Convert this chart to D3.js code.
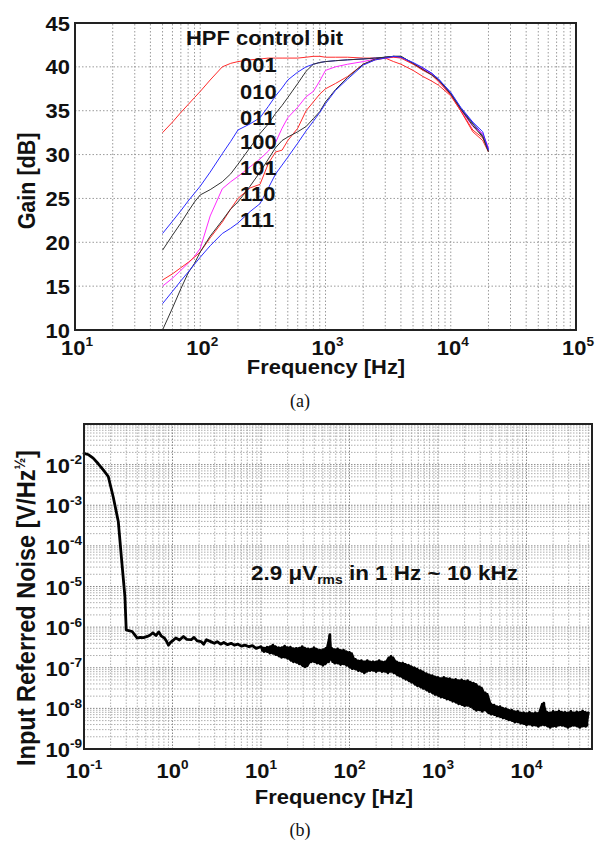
<!DOCTYPE html>
<html><head><meta charset="utf-8">
<script src="https://cdn.jsdelivr.net/npm/d3@7"></script>
<style>body{margin:0;background:#fff}svg{display:block}</style>
</head><body>
<svg id="c" width="602" height="851"></svg>
<script>
// ---------- DATA: (a) gain vs frequency ----------
const gainFreq = [50, 60, 70, 80, 90, 100, 120, 150, 175, 200, 250, 300, 350, 400, 450, 500, 600, 700, 800, 900, 1000, 1200, 1500, 2000, 2500, 3000, 3500, 4000, 5000, 6000, 7000, 8000, 10000, 12000, 15000, 18000, 20000];
const gain001 = [32.5, 33.7, 34.8, 35.7, 36.5, 37.2, 38.5, 40.0, 40.4, 40.6, 40.8, 40.9, 41.0, 41.0, 41.0, 41.0, 41.0, 41.1, 41.2, 41.2, 41.1, 41.1, 41.1, 41.0, 41.0, 41.0, 40.6, 40.3, 39.6, 38.9, 38.4, 37.9, 36.7, 35.0, 32.8, 31.9, 30.7];
const gain010 = [21.0, 22.4, 23.6, 24.7, 25.6, 26.4, 28.0, 30.1, 31.5, 32.8, 33.5, 34.2, 35.5, 36.7, 37.6, 38.5, 39.4, 40.0, 40.3, 40.5, 40.6, 40.7, 40.8, 40.9, 41.0, 41.1, 41.2, 41.1, 40.4, 39.8, 39.3, 38.6, 37.0, 35.3, 33.6, 32.3, 30.6];
const gain011 = [19.1, 20.8, 22.2, 23.5, 24.6, 25.4, 26.0, 26.9, 27.8, 28.9, 30.8, 32.4, 33.5, 34.7, 35.6, 36.5, 38.1, 39.5, 40.3, 40.5, 40.6, 40.7, 40.8, 40.9, 41.0, 41.1, 41.2, 41.2, 40.4, 39.7, 39.2, 38.5, 36.9, 35.2, 33.5, 32.1, 30.4];
const gain100 = [15.0, 15.9, 16.8, 17.6, 18.4, 19.3, 23.0, 26.1, 26.9, 27.5, 28.6, 29.5, 30.4, 31.4, 33.0, 34.2, 35.4, 36.6, 37.2, 38.4, 39.6, 40.0, 40.3, 40.6, 40.9, 41.0, 41.1, 41.1, 40.4, 39.8, 39.2, 38.4, 36.8, 35.1, 33.2, 32.4, 30.8];
const gain101 = [15.7, 16.4, 17.1, 17.7, 18.3, 18.9, 20.5, 22.3, 23.8, 25.0, 26.2, 26.6, 29.0, 30.3, 30.5, 31.6, 33.0, 35.0, 36.0, 36.9, 37.5, 38.1, 38.9, 40.3, 40.8, 41.0, 41.1, 41.0, 40.3, 39.6, 39.1, 38.3, 36.8, 35.0, 32.6, 31.6, 30.3];
const gain110 = [10.0, 12.5, 14.7, 16.5, 17.6, 18.9, 20.7, 22.5, 23.8, 24.6, 26.4, 28.0, 29.5, 30.8, 31.6, 32.0, 32.6, 33.2, 34.1, 34.9, 36.0, 37.4, 38.8, 40.3, 40.9, 41.1, 41.2, 41.2, 40.4, 39.7, 39.1, 38.5, 36.9, 35.2, 33.3, 32.0, 30.3];
const gain111 = [13.0, 14.4, 15.6, 16.6, 17.5, 18.3, 19.6, 21.0, 21.6, 22.2, 23.5, 24.4, 26.2, 27.8, 28.8, 29.7, 31.3, 32.7, 33.8, 34.8, 35.8, 37.3, 38.6, 40.2, 40.8, 41.0, 41.2, 41.1, 40.5, 39.9, 39.3, 38.6, 37.1, 35.4, 33.7, 32.6, 30.5];
const hpfCodes = ["001", "010", "011", "100", "101", "110", "111"];
const hpfColors = ["#ff2b2b", "#2b2bff", "#333333", "#ff2bff", "#ff2b2b", "#333333", "#2b2bff"];
const gainTicksY = [10, 15, 20, 25, 30, 35, 40, 45];
const gainTicksX = [10, 100, 1000, 10000, 100000];
const gainTickExp = ["1", "2", "3", "4", "5"];

// ---------- DATA: (b) input referred noise ----------
const noiseFreq = [0.1, 0.113, 0.127, 0.145, 0.165, 0.188, 0.214, 0.244, 0.266, 0.29, 0.3,
  0.32, 0.35, 0.38, 0.40, 0.43, 0.47, 0.52, 0.56, 0.60, 0.65, 0.70, 0.75, 0.81, 0.86, 0.90, 0.95,
  1.0, 1.09, 1.2, 1.33, 1.45, 1.63, 1.75, 1.9, 2.1, 2.25, 2.42, 2.7, 2.97, 3.2, 3.5, 3.8, 4.2, 4.6, 5.0, 5.5, 6.0, 6.6, 7.3, 8.0, 8.8, 9.6,
  10, 10.8, 11.7, 12.6, 13.6, 14.7, 15.9, 17.1, 18.5, 20, 21.5, 23.2, 25, 27, 29.2, 31.5, 34, 36.8, 39.7, 42.9, 46.3, 50, 54, 58.3, 60, 61, 63, 68, 73.4, 79.3, 85.6, 92.5, 100,
  108, 116.6, 126, 136, 147, 158.7, 171, 185, 200, 216, 233, 252, 272, 294, 317,
  342, 370, 400, 432, 466, 503, 543, 587, 634, 684, 739, 798, 862, 931, 1000,
  1080, 1166, 1260, 1360, 1470, 1587, 1714, 1851, 2000, 2160, 2332, 2520, 2720, 2940, 3170, 3420,
  3690, 3990, 4300, 4650, 5020, 5420, 5850, 6320, 6830, 7370, 7960, 8600, 9290, 10000,
  10800, 11660, 12600, 13600, 14700, 15700, 15900, 17100, 18500, 20000, 21600, 23300, 25200, 27200, 29400, 31700, 34200, 37000, 40000, 43100, 46600, 50000];
const noiseVal = [1.9e-2, 1.75e-2, 1.45e-2, 1.05e-2, 7.4e-3, 5.1e-3, 1.6e-3, 4.0e-4, 4.6e-5, 5.6e-6, 8.5e-7,
  8.2e-7, 7.8e-7, 6.2e-7, 5.4e-7, 5.6e-7, 5.5e-7, 5.9e-7, 6.4e-7, 7.2e-7, 6.2e-7, 7.6e-7, 6.0e-7, 5.4e-7, 4.4e-7, 3.6e-7, 4.2e-7,
  4.6e-7, 5.4e-7, 4.8e-7, 5.9e-7, 5.0e-7, 4.9e-7, 5.6e-7, 4.6e-7, 4.4e-7, 3.8e-7, 4.9e-7, 4.4e-7, 4.0e-7, 4.4e-7, 3.8e-7, 4.2e-7, 3.7e-7, 4.0e-7, 3.6e-7, 3.8e-7, 3.4e-7, 3.6e-7, 3.3e-7, 3.5e-7, 3.0e-7, 3.2e-7,
  3.3e-7, 2.5e-7, 3.2e-7, 2.3e-7, 3.6e-7, 2.1e-7, 3.1e-7, 1.8e-7, 3.4e-7, 1.7e-7, 3.2e-7, 1.4e-7, 3.0e-7, 1.25e-7, 3.3e-7, 1.05e-7, 2.9e-7, 1.4e-7, 3.1e-7, 1.3e-7, 2.7e-7, 1.15e-7, 3.0e-7, 1.4e-7, 6.5e-7, 1.6e-7, 3.0e-7, 1.3e-7, 2.9e-7, 1.2e-7, 2.7e-7, 1.15e-7, 2.4e-7,
  9.5e-8, 1.6e-7, 8.5e-8, 1.5e-7, 7.5e-8, 1.5e-7, 8.5e-8, 1.4e-7, 8.0e-8, 1.5e-7, 8.0e-8, 1.4e-7, 7.5e-8, 1.9e-7, 7.5e-8,
  1.4e-7, 6.2e-8, 1.3e-7, 5.2e-8, 1.15e-7, 4.4e-8, 1.0e-7, 3.6e-8, 8.5e-8, 3.1e-8, 7.2e-8, 2.6e-8, 6.4e-8, 2.2e-8, 5.8e-8,
  1.9e-8, 5.8e-8, 1.7e-8, 5.4e-8, 1.5e-8, 5.2e-8, 1.3e-8, 5.0e-8, 1.15e-8, 4.8e-8, 1.1e-8, 4.2e-8, 9.0e-9, 3.4e-8, 8.5e-9, 2.4e-8,
  1.4e-8, 7.2e-9, 1.2e-8, 6.5e-9, 1.1e-8, 5.8e-9, 9.8e-9, 5.2e-9, 9.0e-9, 4.6e-9, 8.4e-9, 4.3e-9, 7.8e-9, 3.9e-9,
  8.0e-9, 3.8e-9, 7.8e-9, 3.6e-9, 8.2e-9, 1.35e-8, 3.9e-9, 8.0e-9, 3.4e-9, 8.4e-9, 3.6e-9, 8.6e-9, 3.8e-9, 8.0e-9, 3.4e-9, 8.4e-9, 3.8e-9, 8.2e-9, 3.4e-9, 8.6e-9, 3.6e-9, 7.8e-9];
const noiseTicksX = [0.1, 1, 10, 100, 1000, 10000];
const noiseTickExpX = ["-1", "0", "1", "2", "3", "4"];
const noiseTicksY = [1e-9, 1e-8, 1e-7, 1e-6, 1e-5, 1e-4, 1e-3, 1e-2];
const noiseTickExpY = ["-9", "-8", "-7", "-6", "-5", "-4", "-3", "-2"];

// ---------- DRAWING ----------
const SANS = "'Liberation Sans', Arial, Helvetica, sans-serif";
const SERIF = "'Liberation Serif', 'Times New Roman', serif";
const SX = 1.07; // horizontal stretch of the reference lettering
const FS = 20.5;
const svg = d3.select("#c");

function logGridValues(lo, hi) {
  const out = [];
  for (let e = Math.floor(Math.log10(lo)); e <= Math.ceil(Math.log10(hi)); e++) {
    for (let k = 1; k < 10; k++) {
      const v = k * Math.pow(10, e);
      if (v > lo * 1.0001 && v < hi * 0.9999) out.push({v, major: k === 1});
    }
  }
  return out;
}

function label(g, x, y, anchor, size, rot) {
  return g.append("text")
    .attr("transform", `translate(${x},${y}) scale(${SX},1)` + (rot ? ` rotate(${rot})` : ""))
    .attr("text-anchor", anchor).attr("font-family", SANS)
    .attr("font-weight", "bold").attr("font-size", size).attr("fill", "#111");
}

function powLabel(g, x, y, exp, anchor, size) {
  const t = label(g, x, y, anchor, size);
  t.append("tspan").text("10");
  t.append("tspan").attr("dy", -size * 0.42).attr("font-size", size * 0.62).text(exp);
  return t;
}

// ===== Chart (a) =====
const xA = d3.scaleLog().domain([10, 1e5]).range([75, 576]);
const yA = d3.scaleLinear().domain([10, 45]).range([330, 23]);
const gA = svg.append("g");

gA.selectAll("line.vgA").data(logGridValues(10, 1e5)).join("line")
  .attr("x1", d => xA(d.v)).attr("x2", d => xA(d.v))
  .attr("y1", yA(10)).attr("y2", yA(45))
  .attr("stroke", "#8f8f8f").attr("stroke-width", 0.9).attr("stroke-dasharray", "1.5,2");
gA.selectAll("line.hgA").data(gainTicksY.slice(1, -1)).join("line")
  .attr("x1", xA(10)).attr("x2", xA(1e5))
  .attr("y1", d => yA(d)).attr("y2", d => yA(d))
  .attr("stroke", "#8f8f8f").attr("stroke-width", 0.9).attr("stroke-dasharray", "1.5,2");

const gainSeries = [gain001, gain010, gain011, gain100, gain101, gain110, gain111];
const lineA = d3.line().x(d => xA(d[0])).y(d => yA(d[1]));
gainSeries.forEach((vals, i) => {
  gA.append("path")
    .datum(gainFreq.map((f, j) => [f, vals[j]]))
    .attr("d", lineA).attr("fill", "none")
    .attr("stroke", hpfColors[i]).attr("stroke-width", 1)
    .attr("stroke-linejoin", "round");
});

gA.append("rect").attr("x", xA(10)).attr("y", yA(45))
  .attr("width", xA(1e5) - xA(10)).attr("height", yA(10) - yA(45))
  .attr("fill", "none").attr("stroke", "#222").attr("stroke-width", 2);

gainTicksY.forEach(v => label(gA, 70, yA(v) + 7.5, "end", FS).text(v));
gainTicksX.forEach((v, i) => powLabel(gA, xA(v) + 2, 355, gainTickExp[i], "middle", FS));

label(gA, 35, 181, "middle", 21.5, -90).text("Gain [dB]");
label(gA, 326, 374, "middle", FS).text("Frequency [Hz]");

// legend text
label(gA, 186, 45, "start", FS).text("HPF control bit");
const codeBaselines = [72, 99, 125, 149, 175, 201, 227];
hpfCodes.forEach((c, i) => label(gA, 240, codeBaselines[i], "start", FS).text(c));

svg.append("text").attr("x", 300).attr("y", 407).attr("text-anchor", "middle")
  .attr("font-family", SERIF).attr("font-size", 18).attr("fill", "#111").text("(a)");

// ===== Chart (b) =====
const xB = d3.scaleLog().domain([0.1, 5.5e4]).range([84, 592]);
const yB = d3.scaleLog().domain([1e-9, 1e-1]).range([749, 424]);
const gB = svg.append("g");

gB.selectAll("line.vgB").data(logGridValues(0.1, 5.5e4)).join("line")
  .attr("x1", d => xB(d.v)).attr("x2", d => xB(d.v))
  .attr("y1", yB(1e-9)).attr("y2", yB(1e-1))
  .attr("stroke", d => d.major ? "#777" : "#a6a6a6").attr("stroke-width", 0.9)
  .attr("stroke-dasharray", "1.5,1.5");
gB.selectAll("line.hgB").data(logGridValues(1e-9, 1e-1)).join("line")
  .attr("x1", xB(0.1)).attr("x2", xB(5.5e4))
  .attr("y1", d => yB(d.v)).attr("y2", d => yB(d.v))
  .attr("stroke", d => d.major ? "#777" : "#a6a6a6").attr("stroke-width", 0.9)
  .attr("stroke-dasharray", "1.5,1.5");

const noisePts = noiseFreq.map((f, j) => [f, noiseVal[j]]);
// dense noisy band (>= 10 Hz): filled between the local min and max of the trace
const bandPts = noisePts.map((p, j) => {
  const w = noiseVal.slice(Math.max(0, j - 1), j + 2);
  return {f: p[0], lo: d3.min(w), hi: d3.max(w)};
}).filter(d => d.f >= 10);
gB.append("path").datum(bandPts)
  .attr("d", d3.area().x(d => xB(d.f)).y0(d => yB(d.lo)).y1(d => yB(d.hi)))
  .attr("fill", "#000");

const lineB = d3.line().x(d => xB(d[0])).y(d => yB(d[1]));
gB.append("path")
  .datum(noisePts)
  .attr("d", lineB).attr("fill", "none")
  .attr("stroke", "#000").attr("stroke-width", 2.8)
  .attr("stroke-linejoin", "round").attr("stroke-linecap", "round");

gB.append("rect").attr("x", xB(0.1)).attr("y", yB(1e-1))
  .attr("width", xB(5.5e4) - xB(0.1)).attr("height", yB(1e-9) - yB(1e-1))
  .attr("fill", "none").attr("stroke", "#222").attr("stroke-width", 2);

noiseTicksY.forEach((v, i) => powLabel(gB, 82, yB(v) + 8, noiseTickExpY[i], "end", FS));
noiseTicksX.forEach((v, i) => powLabel(gB, xB(v), 778, noiseTickExpX[i], "middle", FS));

const yl = label(gB, 35, 608, "middle", 23.5, -90);
yl.append("tspan").text("Input Referred Noise [V/Hz");
yl.append("tspan").attr("dy", -9).attr("font-size", 14).text("½");
yl.append("tspan").attr("dy", 9).text("]");

label(gB, 334, 804, "middle", FS).text("Frequency [Hz]");

const ann = label(gB, 251, 580, "start", 21);
ann.append("tspan").text("2.9 μV");
ann.append("tspan").attr("dy", 4).attr("font-size", 13).text("rms");
ann.append("tspan").attr("dy", -4).text(" in 1 Hz ~ 10 kHz");

svg.append("text").attr("x", 300).attr("y", 836).attr("text-anchor", "middle")
  .attr("font-family", SERIF).attr("font-size", 18).attr("fill", "#111").text("(b)");
</script>
</body></html>
